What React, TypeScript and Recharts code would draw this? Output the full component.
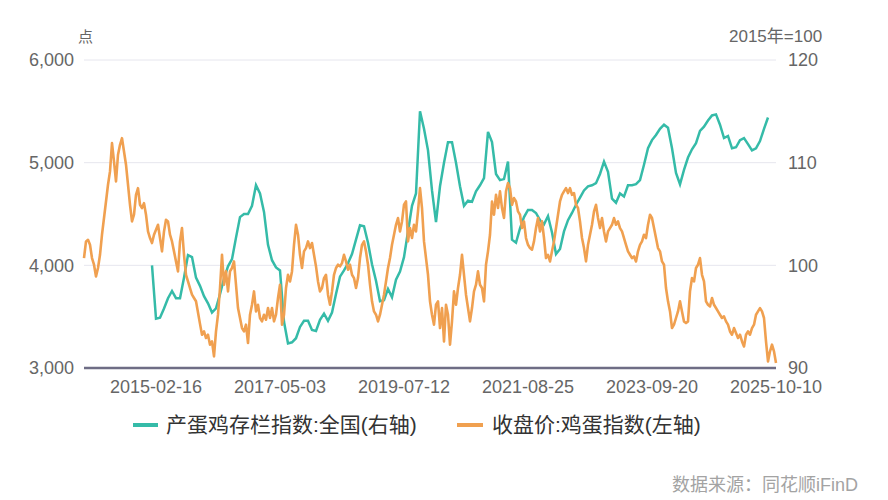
import { LineChart, Line, XAxis, YAxis, CartesianGrid } from "recharts";

// 收盘价:鸡蛋指数 (left axis), read left to right across the plot
const EGG = [
  4071, 4233, 4249, 4200, 4071, 4006, 3892, 3974, 4103, 4298,
  4461, 4622, 4785, 4915, 5190, 5012, 4817, 5077, 5174, 5239,
  5109, 4980, 4785, 4590, 4428, 4493, 4687, 4752, 4590, 4558,
  4606, 4493, 4330, 4266, 4217, 4298, 4347, 4395, 4266, 4136,
  4330, 4444, 4428, 4298, 4233, 4136, 4038, 3941, 4233, 4363,
  4103, 3908, 3843, 3779, 3714, 3682, 3650, 3540,
  3430, 3324, 3356, 3292, 3324, 3227, 3259, 3113, 3356, 3519,
  3779, 4103, 3811, 3941, 3746, 3941, 3974, 4038, 3811, 3584,
  3487, 3389, 3356, 3422, 3243, 3519, 3616, 3746, 3551, 3616,
  3487, 3454, 3519, 3470, 3584, 3487, 3584, 3454, 3519, 3682,
  3811, 3422, 3519, 3779, 3908, 3843, 3941, 4200, 4395, 4298,
  4103, 3974, 4136, 4168, 4233, 4168, 4217, 4103,
  3990, 3843, 3746, 3779, 3876, 3908, 3714, 3616, 3746, 3908,
  3974, 4006, 3990, 4022, 4103, 4038, 3957, 4006, 3908, 3876,
  3779, 3876, 4071, 4200, 4233, 4136, 4006, 3811, 3649, 3551,
  3519, 3454, 3519, 3616, 3714, 3843, 3974, 4071, 4200, 4298,
  4395, 4461, 4330, 4428, 4590, 4622, 4233, 4363, 4266, 4395,
  4330, 4525, 4752, 4558, 4233, 4071, 3908, 3649,
  3519, 3422, 3616, 3649, 3389, 3584, 3259, 3616, 3519, 3227,
  3454, 3746, 3616, 3779, 3908, 4103, 3908, 3714, 3584, 3454,
  3584, 3746, 3811, 3941, 3811, 3779, 3649, 4006, 4136, 4298,
  4622, 4493, 4687, 4558, 4720, 4558, 4461, 4720, 4801, 4752,
  4590, 4655, 4622, 4525, 4493, 4363, 4428, 4266, 4200, 4168,
  4152, 4233, 4363, 4461, 4330, 4428, 4266, 4071,
  4103, 4038, 4136, 4233, 4363, 4493, 4622, 4687, 4720, 4752,
  4704, 4752, 4687, 4704, 4590, 4558, 4428, 4266, 4168, 4038,
  4200, 4298, 4395, 4525, 4590, 4461, 4363, 4461, 4330, 4233,
  4330, 4363, 4395, 4461, 4395, 4428, 4363, 4330, 4266, 4200,
  4136, 4103, 4071, 4087, 4038, 4136, 4200, 4233, 4298, 4266,
  4395, 4493, 4461, 4363, 4266, 4168, 4136, 4038,
  4006, 3779, 3649, 3551, 3389, 3422, 3487, 3551, 3649, 3551,
  3454, 3438, 3454, 3746, 3876, 3843, 3974, 4006, 4071, 3908,
  3843, 3649, 3616, 3600, 3682, 3616, 3584, 3551, 3519, 3487,
  3503, 3454, 3422, 3356, 3324, 3389, 3340, 3292, 3324, 3259,
  3210, 3324, 3356, 3324, 3389, 3422, 3519, 3551, 3584, 3551,
  3487, 3259, 3064, 3162, 3227, 3162, 3049,
];

// 产蛋鸡存栏指数:全国 (right axis), one reading every HEN_STEP egg samples from HEN_START
const HEN_START = 34;
const HEN_STEP = 2;
const HENS = [
  100.0, 94.8, 94.9, 95.8, 96.8, 97.5, 96.8, 96.8, 98.8, 101.0,
  100.8, 98.8, 98.0, 97.0, 96.3, 95.4, 95.8, 97.2, 98.7, 99.9,
  100.6, 102.7, 104.7, 105.0, 105.0, 105.8, 107.8, 107.0, 105.2, 102.0,
  100.5, 99.8, 99.5, 94.5, 92.4, 92.5, 92.9, 94.0, 94.6, 94.6,
  93.7, 93.6, 94.7, 95.3, 94.6, 95.4, 97.2, 98.9, 99.5, 100.2,
  101.1, 102.5, 103.9, 103.8, 102.2, 100.1, 98.5, 96.5, 96.6, 97.7,
  96.9, 98.6, 99.4, 100.8, 103.3, 105.8, 107.0, 115.0, 113.3, 111.2,
  107.3, 104.2, 107.7, 110.0, 112.0, 112.0, 110.0, 107.7, 105.8, 106.3,
  106.2, 107.2, 107.8, 108.5, 113.0, 112.0, 108.9, 108.3, 108.4, 110.1,
  102.5, 102.2, 103.6, 104.7, 105.4, 105.4, 105.1, 104.4, 104.0, 104.8,
  103.2, 101.1, 101.6, 103.3, 104.4, 105.1, 105.9, 106.6, 107.3, 107.7,
  107.8, 108.0, 108.9, 110.1, 109.1, 106.5, 106.1, 107.0, 106.7, 107.8,
  107.8, 107.9, 108.3, 109.8, 111.4, 112.2, 112.7, 113.3, 113.7, 113.4,
  111.4, 109.0, 107.9, 109.3, 110.5, 111.3, 111.9, 113.1, 113.5, 114.1,
  114.6, 114.7, 113.7, 112.4, 112.6, 111.4, 111.5, 112.2, 112.4, 111.8,
  111.2, 111.4, 112.1, 113.3, 114.4,
];

const TICK_IDX = [36, 98, 160, 222, 284, 346];
const TICK_LABELS = ["2015-02-16", "2017-05-03", "2019-07-12", "2021-08-25", "2023-09-20", "2025-10-10"];
const LEFT_TICKS = [3000, 4000, 5000, 6000];
const RIGHT_TICKS = [90, 100, 110, 120];

const TEAL = "#35BBA8";
const ORANGE = "#F0A050";
const FONT = '"Liberation Sans", "Noto Sans CJK SC", sans-serif';
const tickStyle = { fill: "#666", fontSize: 18, fontFamily: FONT };

export default function App() {
  const data = EGG.map((v, i) => {
    const h = (i - HEN_START) / HEN_STEP;
    const hen = h >= 0 && Number.isInteger(h) && h < HENS.length ? HENS[h] : null;
    return { i, egg: v, hen };
  });

  return (
    <div style={{ position: "absolute", left: 0, top: 0, width: 888, height: 500, background: "#fff", fontFamily: FONT }}>
      <LineChart width={888} height={500} data={data} margin={{ top: 60, right: 0, bottom: 102, left: 0 }}>
        <CartesianGrid yAxisId="left" vertical={false} stroke="#E6E6EE" />
        <XAxis
          dataKey="i" type="number" domain={[0, EGG.length - 1]} ticks={TICK_IDX} interval={0}
          tickFormatter={(v: number) => TICK_LABELS[TICK_IDX.indexOf(v)]}
          height={30} tickSize={0} tickMargin={12} tickLine={false}
          axisLine={{ stroke: "#6E6D85", strokeWidth: 2.5 }} tick={tickStyle}
        />
        <YAxis
          yAxisId="left" domain={[3000, 6000]} ticks={LEFT_TICKS} width={84}
          axisLine={false} tickLine={false} tickSize={0} tickMargin={10} tick={tickStyle}
          tickFormatter={(v: number) => v.toLocaleString("en-US")}
        />
        <YAxis
          yAxisId="right" orientation="right" domain={[90, 120]} ticks={RIGHT_TICKS} width={112}
          axisLine={false} tickLine={false} tickSize={0} tickMargin={12} tick={tickStyle}
        />
        <Line yAxisId="right" dataKey="hen" stroke={TEAL} strokeWidth={2.5} dot={false} connectNulls isAnimationActive={false} />
        <Line yAxisId="left" dataKey="egg" stroke={ORANGE} strokeWidth={2.6} strokeLinejoin="round" dot={false} isAnimationActive={false} />
      </LineChart>

      <div style={{ position: "absolute", left: 78, top: 29, fontSize: 15, lineHeight: "15px", color: "#666" }}>点</div>
      <div style={{ position: "absolute", left: 729, top: 28, fontSize: 17, lineHeight: "17px", color: "#666" }}>2015年=100</div>

      <div style={{ position: "absolute", left: 133, top: 425, width: 25, height: 4, marginTop: -2, background: TEAL }} />
      <div style={{ position: "absolute", left: 166, top: 412, fontSize: 21, lineHeight: "26px", color: "#333" }}>产蛋鸡存栏指数:全国(右轴)</div>
      <div style={{ position: "absolute", left: 457, top: 425, width: 26, height: 4, marginTop: -2, background: ORANGE }} />
      <div style={{ position: "absolute", left: 492, top: 412, fontSize: 21, lineHeight: "26px", color: "#333" }}>收盘价:鸡蛋指数(左轴)</div>

      <div style={{ position: "absolute", left: 672, top: 476, fontSize: 18, lineHeight: "18px", color: "#A3A3A3" }}>数据来源：同花顺iFinD</div>
    </div>
  );
}
